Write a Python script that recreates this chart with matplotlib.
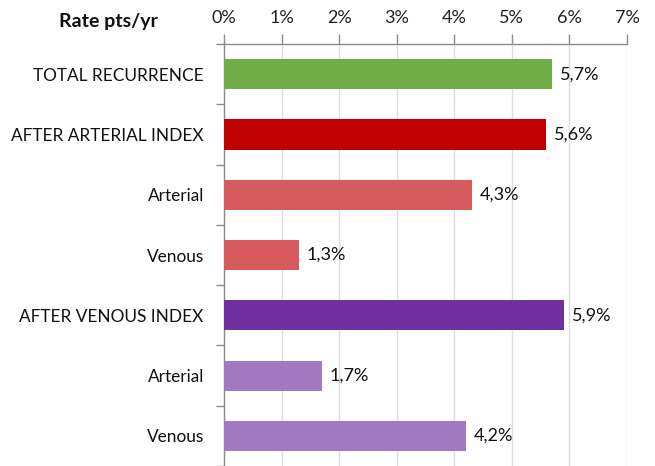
import matplotlib
matplotlib.use("Agg")
import matplotlib.pyplot as plt
import numpy as np

categories = ["TOTAL RECURRENCE", "AFTER ARTERIAL INDEX", "Arterial", "Venous",
              "AFTER VENOUS INDEX", "Arterial", "Venous"]
values = [5.7, 5.6, 4.3, 1.3, 5.9, 1.7, 4.2]
colors = ["#70AD47", "#C00000", "#D65B5C", "#D65B5C", "#7030A0", "#A178C1", "#A178C1"]
xticks = [0, 1, 2, 3, 4, 5, 6, 7]
xtick_labels = ["0%", "1%", "2%", "3%", "4%", "5%", "6%", "7%"]
title = "Rate pts/yr"

plt.rcParams['font.family'] = ['Lato', 'DejaVu Sans']

W, H = 655, 466
fig = plt.figure(figsize=(W / 100, H / 100), dpi=100)
left, right, top = 224 / W, 627 / W, 44 / H
ax = fig.add_axes([left, 0, right - left, 1 - top])

y = np.arange(len(categories))
ax.barh(y, values, height=0.5, color=colors, zorder=3)

ax.set_xlim(0, 7)
ax.set_ylim(-0.5 + (H - 44) / 61.0, -0.5)

ax.xaxis.tick_top()
ax.set_xticks(xticks)
ax.set_xticklabels(xtick_labels, fontsize=13, color="#222222")
ax.tick_params(axis="x", which="major", length=7, width=1, color="#8C8C8C", pad=6)
ax.grid(axis="x", color="#DCDCEA", linewidth=1, zorder=0)

ax.set_yticks(y)
ax.set_yticklabels(categories, fontsize=12.4, color="#111111")
ax.tick_params(axis="y", which="major", length=0, pad=14.5)
ax.set_yticks(np.arange(-0.5, len(categories) + 0.5, 1), minor=True)
ax.tick_params(axis="y", which="minor", length=6, width=1, color="#8C8C8C")

for side in ["right", "bottom"]:
    ax.spines[side].set_visible(False)
for side in ["left", "top"]:
    ax.spines[side].set_color("#8C8C8C")
    ax.spines[side].set_linewidth(1)

for yi, v in zip(y, values):
    ax.text(v + 0.14, yi, f"{v:.1f}%".replace(".", ","), va="center", ha="left",
            fontsize=13, color="#111111")

fig.text(108 / W, 1 - 21 / H, title, ha="center", va="center", fontsize=14,
         fontweight="bold", color="#111111")

fig.savefig("out.png", dpi=100)
